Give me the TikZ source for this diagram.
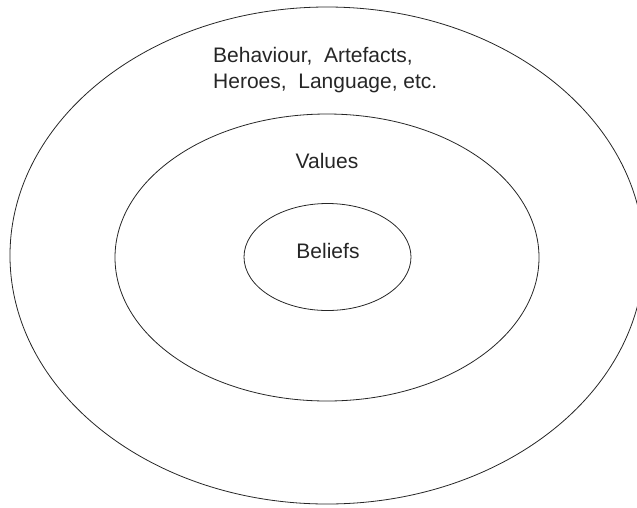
\documentclass[tikz,border=0pt]{standalone}
\usepackage{fontspec}
\setmainfont{Liberation Sans}
\usetikzlibrary{shapes.geometric}
\begin{document}
\begin{tikzpicture}[x=1pt,y=-1pt,
  ring/.style={ellipse,draw=black!85,line width=0.8pt,inner sep=0pt},
  lbl/.style={font=\fontsize{21}{26}\selectfont,text=black!85,inner sep=0pt}]
\useasboundingbox (0,0) rectangle (637,507);
\node[ring,minimum width=634pt,minimum height=497pt] (outer) at (327,255.5) {};
\node[ring,minimum width=424pt,minimum height=287pt] (middle) at (327,257.5) {};
\node[ring,minimum width=167pt,minimum height=107pt] (inner) at (327.5,257) {};
\node[lbl,anchor=base west] (line1) at (213,62) {Behaviour,~~Artefacts,};
\node[lbl,anchor=base west] (line2) at (213,88) {Heroes,~~Language,~etc.};
\node[lbl,anchor=base] (values) at (327,168) {Values};
\node[lbl,anchor=base] (beliefs) at (328,258) {Beliefs};
\end{tikzpicture}
\end{document}
